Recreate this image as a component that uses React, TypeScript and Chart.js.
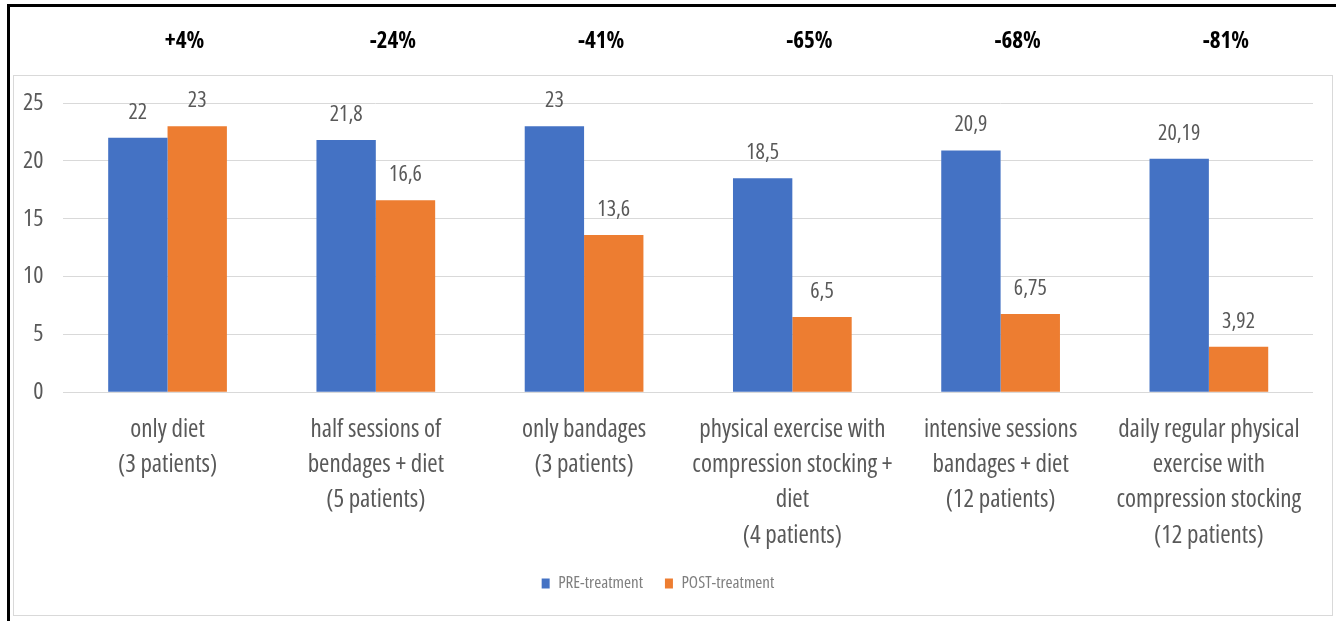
import React, { useEffect, useRef } from "react";
import { Chart, registerables } from "chart.js";

Chart.register(...registerables);

const categories: string[][] = [
  ["only diet", "(3 patients)"],
  ["half sessions of", "bendages + diet", "(5 patients)"],
  ["only bandages", "(3 patients)"],
  ["physical exercise with", "compression stocking +", "diet", "(4 patients)"],
  ["intensive sessions", "bandages + diet", "(12 patients)"],
  ["daily regular physical", "exercise with", "compression stocking", "(12 patients)"],
];
const preTreatment = [22, 21.8, 23, 18.5, 20.9, 20.19];
const postTreatment = [23, 16.6, 13.6, 6.5, 6.75, 3.92];
const changeLabels = ["+4%", "-24%", "-41%", "-65%", "-68%", "-81%"];
const seriesNames = ["PRE-treatment", "POST-treatment"];
const yMax = 25;
const yStep = 5;

const FONT = '"Open Sans", sans-serif';
const STRETCH = "condensed";
const BLUE = "#4472C4";
const ORANGE = "#ED7D31";
const GREY_TEXT = "#595959";

const labelsPlugin = {
  id: "customLabels",
  afterDatasetsDraw(chart: any) {
    const ctx = chart.ctx;
    ctx.save();
    ctx.font = `${STRETCH} 22px ${FONT}`;
    ctx.fillStyle = GREY_TEXT;
    ctx.textAlign = "center";
    ctx.textBaseline = "alphabetic";
    chart.data.datasets.forEach((ds: any, di: number) => {
      const meta = chart.getDatasetMeta(di);
      meta.data.forEach((bar: any, i: number) => {
        const txt = String(ds.data[i]).replace(".", ",");
        ctx.fillText(txt, bar.x, bar.y - 19);
      });
    });
    const xs = chart.scales.x;
    ctx.font = `bold ${STRETCH} 23px ${FONT}`;
    ctx.fillStyle = "#000000";
    changeLabels.forEach((lbl, i) => {
      ctx.fillText(lbl, xs.getPixelForValue(i) + 17, 48);
    });
    ctx.restore();
  },
};

export default function App() {
  const ref = useRef<HTMLCanvasElement | null>(null);

  useEffect(() => {
    if (!ref.current) return;
    const chart = new Chart(ref.current, {
      type: "bar",
      data: {
        labels: categories,
        datasets: [
          {
            label: seriesNames[0],
            data: preTreatment,
            backgroundColor: BLUE,
            categoryPercentage: 0.57,
            barPercentage: 1.0,
          },
          {
            label: seriesNames[1],
            data: postTreatment,
            backgroundColor: ORANGE,
            categoryPercentage: 0.57,
            barPercentage: 1.0,
          },
        ],
      },
      options: {
        animation: false,
        responsive: false,
        maintainAspectRatio: false,
        layout: { padding: { top: 103, left: 3, right: 26, bottom: 19 } },
        plugins: {
          legend: {
            position: "bottom",
            labels: {
              boxWidth: 8,
              boxHeight: 10,
              padding: 22,
              color: "#7f7f7f",
              font: { family: FONT, size: 17, weight: STRETCH as any },
            },
          },
          tooltip: { enabled: false },
        },
        scales: {
          x: {
            grid: { display: false, drawTicks: false },
            border: { display: false },
            ticks: {
              color: GREY_TEXT,
              padding: 20,
              maxRotation: 0,
              autoSkip: false,
              font: { family: FONT, size: 25, lineHeight: 1.408, weight: STRETCH as any },
            },
            afterFit: (scale: any) => {
              scale.height = scale.height - 20;
            },
          },
          y: {
            min: 0,
            max: yMax,
            grid: { color: "#d9d9d9", drawTicks: false, lineWidth: 1 },
            border: { display: false },
            ticks: {
              stepSize: yStep,
              color: GREY_TEXT,
              padding: 20,
              font: { family: FONT, size: 24, weight: STRETCH as any },
            },
          },
        },
      },
      plugins: [labelsPlugin],
    });
    return () => chart.destroy();
  }, []);

  return (
    <div
      style={{
        position: "absolute",
        left: 0,
        top: 0,
        width: 1339,
        height: 621,
        background: "#ffffff",
        overflow: "hidden",
      }}
    >
      <div
        style={{
          position: "absolute",
          left: 7,
          top: 4,
          width: 1326,
          height: 640,
          borderTop: "3px solid #000",
          borderLeft: "3px solid #000",
        }}
      />
      <div
        style={{
          position: "absolute",
          left: 13,
          top: 75,
          width: 1318,
          height: 539,
          border: "1px solid #d9d9d9",
        }}
      />
      <canvas
        ref={ref}
        width={1339}
        height={621}
        style={{ position: "absolute", left: 0, top: 0, width: 1339, height: 621 }}
      />
    </div>
  );
}
